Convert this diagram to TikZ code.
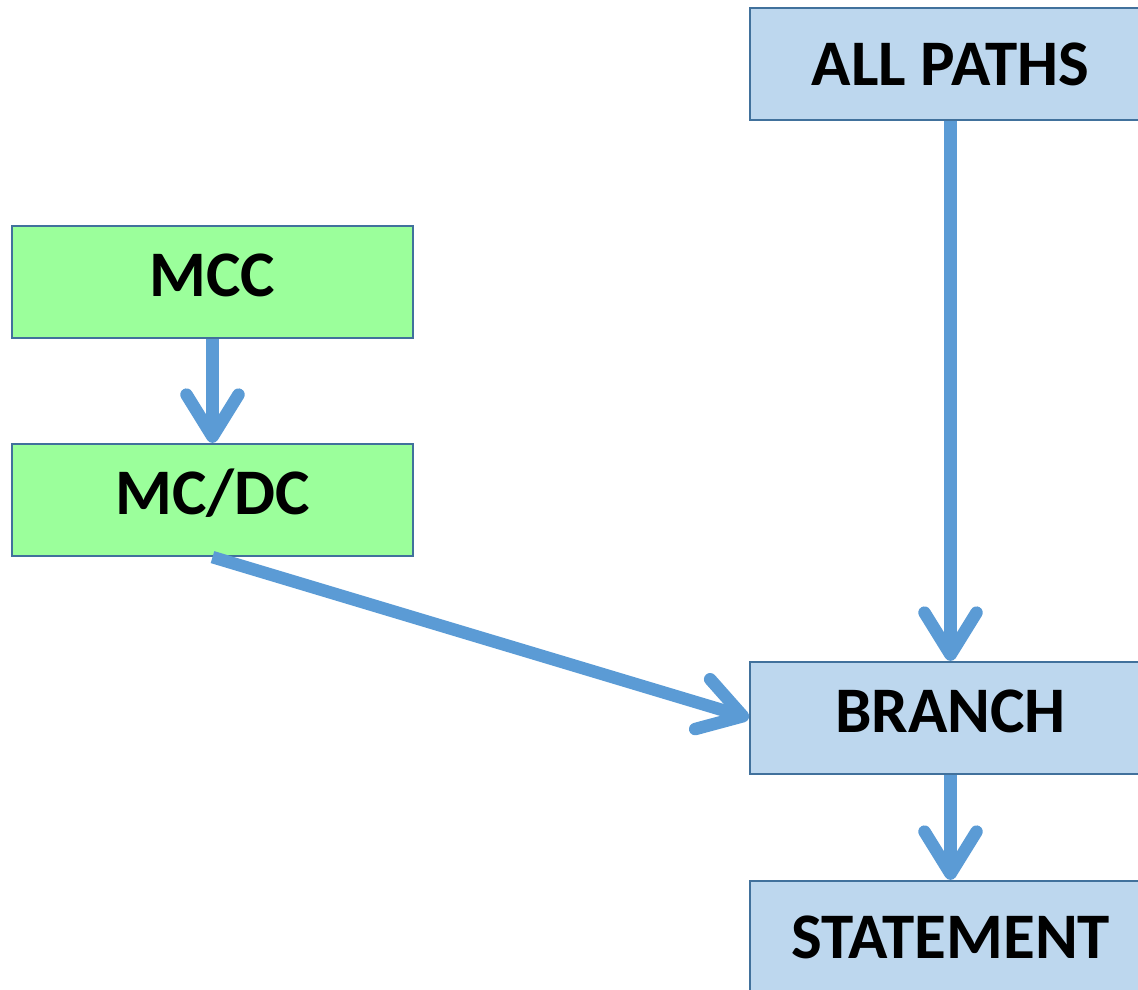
\documentclass[tikz,border=0pt]{standalone}
\usepackage{fontspec}
\setmainfont{Carlito}
\usetikzlibrary{arrows.meta}
\definecolor{linkblue}{HTML}{5B9BD5}
\definecolor{edgeblue}{HTML}{41719C}
\definecolor{paleblue}{HTML}{BDD7EE}
\definecolor{palegreen}{HTML}{9BFF9B}
\tikzset{
  level/.style={draw=edgeblue, line width=2.2pt, minimum width=401pt, minimum height=112pt,
    inner sep=0pt, text height=42pt, text depth=0pt,
    font=\fontsize{65}{70}\selectfont\bfseries},
  raised/.style={text depth=14pt},
  bluebox/.style={level, fill=paleblue},
  greenbox/.style={level, fill=palegreen},
  link/.style={draw=linkblue, line width=12.5pt,
    -{Straight Barb[length=42pt, width=52pt, line cap=round, line join=round]}}
}
\begin{document}
\begin{tikzpicture}[x=1pt, y=-1pt]
  \useasboundingbox (0,0) rectangle (1138,989);
  \clip (0,0) rectangle (1138,989);
  \node[greenbox, raised] (mcc)  at (212.5,282) {MCC};
  \node[greenbox, raised] (mcdc) at (212.5,500) {MC/DC};
  \node[bluebox]          (all)  at (950.5,64)  {ALL PATHS};
  \node[bluebox, raised]  (br)   at (950.5,718) {BRANCH};
  \node[bluebox]          (st)   at (950.5,937) {STATEMENT};
  \draw[link] (mcc.south) -- (mcdc.north);
  \draw[link] (mcdc.south) -- (br.west);
  \draw[link] (all.south) -- (br.north);
  \draw[link] (br.south) -- (st.north);
\end{tikzpicture}
\end{document}
